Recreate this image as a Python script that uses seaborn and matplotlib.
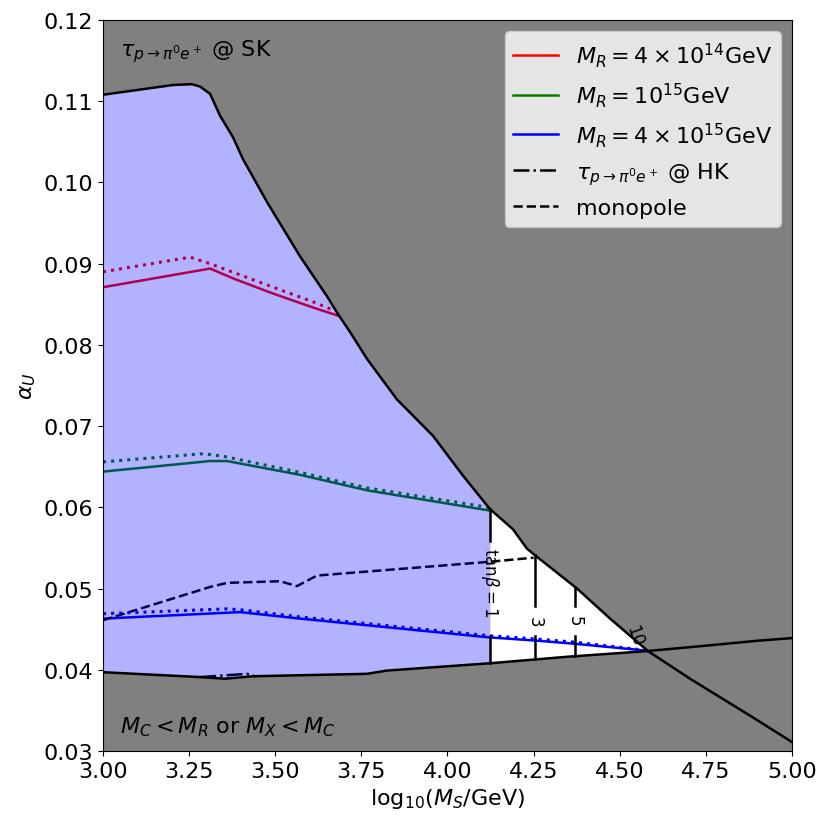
import numpy as np
import matplotlib
matplotlib.use('Agg')
import matplotlib.pyplot as plt
import seaborn as sns

# allowed-region boundaries (SK proton decay on top, M_C/M_X ordering at bottom)
up_x = [3.0, 3.203, 3.258, 3.282, 3.311, 3.340, 3.377, 3.406, 3.476, 3.572, 3.650, 3.682, 3.717,
        3.766, 3.853, 3.958, 4.045, 4.123, 4.190, 4.231, 4.260, 4.376, 4.472, 4.582, 4.704, 4.884, 5.0]
up_y = [0.1108, 0.1120, 0.1121, 0.1118, 0.1109, 0.1082, 0.1056, 0.1029, 0.0976, 0.0909, 0.0860, 0.0838, 0.0816,
        0.0783, 0.0733, 0.0688, 0.0639, 0.0598, 0.0573, 0.0549, 0.0539, 0.0500, 0.0463, 0.0423, 0.0389, 0.0342, 0.0311]
lo_x = [3.0, 3.282, 3.354, 3.435, 3.766, 3.824, 4.123, 4.347, 4.579, 4.733, 4.907, 5.0]
lo_y = [0.0397, 0.0391, 0.0389, 0.0392, 0.0395, 0.0399, 0.0408, 0.0416, 0.0423, 0.0429, 0.0436, 0.0439]

# M_R = 4e14
red_x = [3.0, 3.311, 3.377, 3.476, 3.522, 3.610, 3.682]
red_y = [0.0871, 0.0894, 0.0882, 0.0866, 0.0859, 0.0846, 0.0836]
red_dot_x = [3.0, 3.253, 3.311, 3.456, 3.610, 3.673]
red_dot_y = [0.0890, 0.0908, 0.0900, 0.0877, 0.0853, 0.0842]

# M_R = 1e15
green_x = [3.0, 3.311, 3.360, 3.572, 3.766, 4.123]
green_y = [0.0644, 0.0657, 0.0657, 0.0640, 0.0621, 0.0596]
green_dot_x = [3.0, 3.290, 3.348, 3.572, 3.766, 4.118]
green_dot_y = [0.0656, 0.0666, 0.0663, 0.0643, 0.0624, 0.0600]

# M_R = 4e15
blue_x = [3.0, 3.398, 3.572, 4.118, 4.254, 4.370, 4.567, 4.582]
blue_y = [0.0463, 0.0471, 0.0463, 0.0440, 0.0436, 0.0432, 0.0424, 0.0423]
blue_dot_x = [3.0, 3.360, 3.398, 3.572, 4.118, 4.254, 4.370, 4.575]
blue_dot_y = [0.0469, 0.0475, 0.0474, 0.0465, 0.0442, 0.0438, 0.0434, 0.0424]

# monopole bound
mono_x = [3.0, 3.311, 3.360, 3.514, 3.563, 3.621, 4.123, 4.250]
mono_y = [0.0461, 0.0502, 0.0507, 0.0509, 0.0503, 0.0516, 0.0533, 0.0538]

# HK proton decay
hk_x = [3.282, 3.418, 3.441]
hk_y = [0.0391, 0.0395, 0.0392]

# tan(beta) contours
tanb_x = [4.123, 4.254, 4.370]
tanb_lab = [r'$\mathrm{tan}\beta=1$', '3', '5']
tanb_gap_lo = [0.0442, 0.0442, 0.0442]
tanb_gap_hi = [0.0559, 0.0479, 0.0479]
tanb_lab_y = [0.0509, 0.0460, 0.0461]

fs = 16

fig, ax = plt.subplots(figsize=(8.3, 8.28), dpi=100)
fig.subplots_adjust(left=0.1241, right=0.9542, bottom=0.0918, top=0.9746)
ax.set_facecolor('gray')

grid = np.union1d(np.union1d(up_x, lo_x), [tanb_x[0]])
g_up = np.interp(grid, up_x, up_y)
g_lo = np.interp(grid, lo_x, lo_y)
ax.fill_between(grid, g_lo, g_up, where=g_up >= g_lo, interpolate=True,
                color='white', lw=0, zorder=0.5)

lw = 1.8
sns.lineplot(x=red_x, y=red_y, color='red', lw=lw, sort=False, ax=ax, zorder=1,
             label=r'$M_R=4\times10^{14}$GeV')
sns.lineplot(x=green_x, y=green_y, color='green', lw=lw, sort=False, ax=ax, zorder=1,
             label=r'$M_R=10^{15}$GeV')
sns.lineplot(x=blue_x, y=blue_y, color='blue', lw=lw, sort=False, ax=ax, zorder=1,
             label=r'$M_R=4\times10^{15}$GeV')
sns.lineplot(x=hk_x, y=hk_y, color='black', lw=lw, ls='-.', sort=False, ax=ax, zorder=1,
             label=r'$\tau_{p\to\pi^0e^+}$ @ HK')
sns.lineplot(x=mono_x, y=mono_y, color='black', lw=lw, ls='--', sort=False, ax=ax, zorder=1,
             label='monopole')
sns.lineplot(x=red_dot_x, y=red_dot_y, color='red', lw=2.2, ls=':', sort=False, ax=ax, zorder=1)
sns.lineplot(x=green_dot_x, y=green_dot_y, color='green', lw=2.2, ls=':', sort=False, ax=ax, zorder=1)
sns.lineplot(x=blue_dot_x, y=blue_dot_y, color='blue', lw=2.2, ls=':', sort=False, ax=ax, zorder=1)

ax.fill_between(grid, g_lo, g_up, where=(grid <= tanb_x[0]) & (g_up >= g_lo),
                color='blue', alpha=0.3, lw=0, zorder=2)

sns.lineplot(x=up_x, y=up_y, color='black', lw=lw, sort=False, ax=ax, zorder=3)
sns.lineplot(x=lo_x, y=lo_y, color='black', lw=lw, sort=False, ax=ax, zorder=3)

for xv, lab, glo, ghi, ly in zip(tanb_x, tanb_lab, tanb_gap_lo, tanb_gap_hi, tanb_lab_y):
    top = np.interp(xv, up_x, up_y)
    bot = np.interp(xv, lo_x, lo_y)
    ax.plot([xv, xv], [ghi, top], color='black', lw=lw, zorder=3)
    ax.plot([xv, xv], [bot, glo], color='black', lw=lw, zorder=3)
    ax.text(xv, ly, lab, rotation=270, ha='center', va='center', fontsize=12, zorder=4)
ax.text(4.544, 0.0442, '10', rotation=-70, ha='center', va='center', fontsize=12, zorder=4)

ax.text(3.05, 0.1162, r'$\tau_{p\to\pi^0e^+}$ @ SK', fontsize=fs, va='center')
ax.text(3.05, 0.0331, r'$M_C<M_R$ or $M_X<M_C$', fontsize=fs, va='center')

ax.set_xlim(3.0, 5.0)
ax.set_ylim(0.03, 0.12)
ax.set_xticks(np.arange(3.0, 5.01, 0.25))
ax.set_yticks(np.arange(0.03, 0.1201, 0.01))
ax.xaxis.set_major_formatter(matplotlib.ticker.FormatStrFormatter('%.2f'))
ax.yaxis.set_major_formatter(matplotlib.ticker.FormatStrFormatter('%.2f'))
ax.tick_params(labelsize=fs)
ax.set_xlabel(r'$\mathrm{log}_{10}(M_S/{\rm GeV})$', fontsize=fs)
ax.set_ylabel(r'$\alpha_U$', fontsize=fs)

ax.legend(loc='upper right', fontsize=fs)

fig.savefig('out.png', dpi=100)
